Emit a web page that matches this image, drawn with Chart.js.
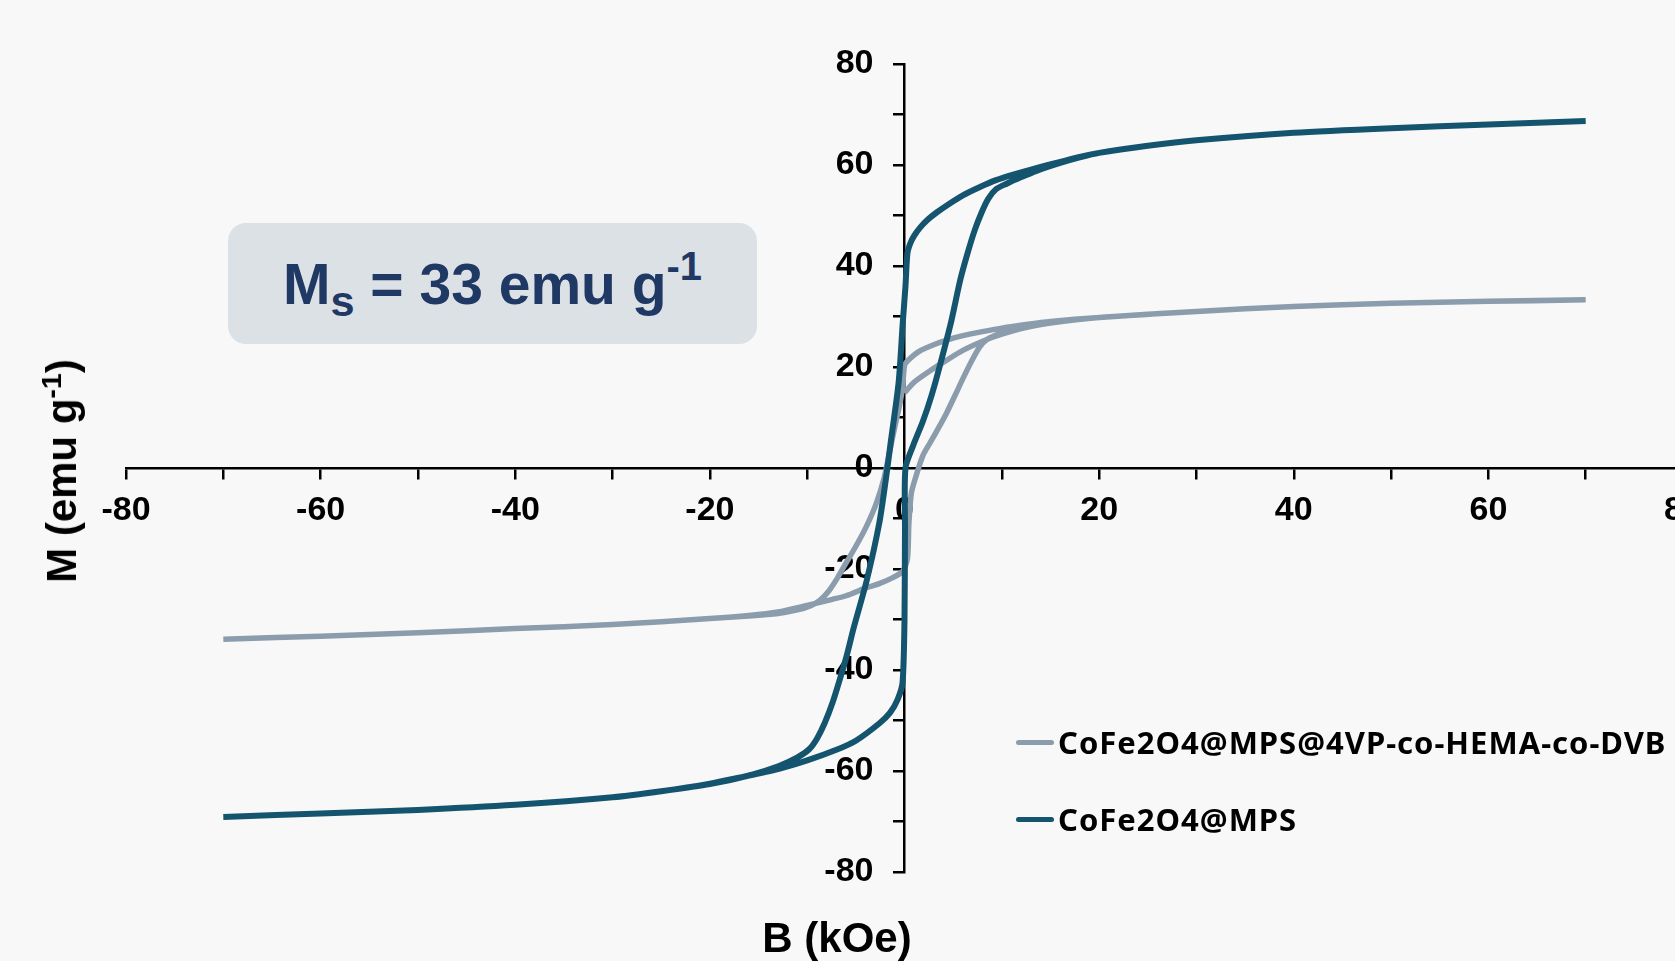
<!DOCTYPE html>
<html>
<head>
<meta charset="utf-8">
<script src="https://cdn.jsdelivr.net/npm/chart.js@4.4.1/dist/chart.umd.min.js"></script>
<style>
  html, body { margin: 0; padding: 0; background: #f8f8f8; overflow: hidden; }
  #wrap { position: relative; width: 1675px; height: 961px; overflow: hidden; background: #f8f8f8; }
  #chart { position: absolute; left: 0; top: 0; }
  .axis-title { position: absolute; font-family: "Liberation Sans", Arial, sans-serif; font-weight: bold;
    font-size: 42px; color: #000; white-space: nowrap; line-height: 1; }
  .axis-title sup { font-size: 0.68em; position: relative; top: -0.15em; vertical-align: top; }
  #xtitle { left: 837px; top: 938px; transform: translate(-50%, -50%); }
  #ytitle { left: 62px; top: 471px; transform: translate(-50%, -50%) rotate(-90deg); }
  #msbox { position: absolute; left: 228px; top: 223px; width: 529px; height: 121px; border-radius: 18px;
    background: #dce1e6; display: flex; align-items: center; justify-content: center;
    font-family: "Liberation Sans", Arial, sans-serif; font-weight: bold; font-size: 57px; color: #1f3864; white-space: nowrap; }
  #msbox .sub { font-size: 0.76em; position: relative; top: 0.42em; }
  #msbox .sup { font-size: 0.7em; position: relative; top: -0.42em; }
  #legend { position: absolute; left: 1016px; top: 0; font-family: "Noto Sans", "Open Sans", sans-serif; font-weight: bold;
    font-size: 31px; letter-spacing: 1px; color: #000; }
  .leg-row { position: absolute; left: 0; display: flex; align-items: center; white-space: nowrap; transform: translateY(-50%); }
  .leg-line { width: 38px; height: 5px; border-radius: 3px; margin-right: 4px; }
</style>
</head>
<body>
<div id="wrap">
  <canvas id="chart" width="1760" height="961"></canvas>
  <div id="msbox"><span>M</span><span class="sub">s</span><span>&nbsp;= 33 emu g</span><span class="sup">-1</span></div>
  <div class="axis-title" id="ytitle">M (emu g<sup>-1</sup>)</div>
  <div class="axis-title" id="xtitle">B (kOe)</div>
  <div id="legend"></div>
</div>
<script>
// CoFe2O4@MPS@4VP-co-HEMA-co-DVB: initial curve, then descending and ascending branches
const fieldPoly = [
  0, 1, 2.6, 4.3, 6, 8.4, 10, 12, 15, 20, 30, 40, 50, 60, 70,
  60, 50, 40, 30, 20, 15, 12.5, 10, 8, 6, 4.5, 3, 1.5, 0.3, 0, -0.2, -0.5, -0.9, -1.5, -2.1, -2.9, -3.9, -5, -6, -6.9, -7.8, -8.7, -9.7, -11, -13, -16, -20, -30, -40, -50, -60, -70,
  -60, -50, -40, -30, -20, -16, -13, -10, -7.4, -6, -3.9, -2.6, -1.2, -0.2, 0.3, 0.45, 0.7, 1.2, 1.9, 2.6, 3.4, 4.3, 5.2, 6, 6.9, 7.7, 8.5, 9.8, 11, 13, 16, 20, 30, 40, 50, 60, 70
];
const momentPoly = [
  14.9, 17, 19.2, 21.3, 23.3, 25.4, 26.5, 27.6, 28.7, 29.8, 31.0, 32.0, 32.6, 33.0, 33.3,
  33.0, 32.6, 32.0, 31.0, 29.8, 29.0, 28.4, 27.7, 27.0, 26.2, 25.4, 24.4, 23.1, 21.2, 20.3, 16, 12.5, 9, 3.5, -2, -7, -11.5, -15.5, -18.8, -21.8, -24.4, -26.2, -27.3, -28.1, -28.8, -29.3, -29.8, -31.0, -31.8, -32.6, -33.3, -33.9,
  -33.3, -32.6, -31.8, -31.0, -29.8, -29.2, -28.5, -27.2, -26.0, -25.3, -23.7, -22.9, -21.7, -20.5, -18, -11, -5, -1.5, 2.5, 4.9, 7.6, 10.8, 14.4, 17.7, 21.2, 23.9, 25.5, 26.7, 27.5, 28.3, 29.1, 29.8, 31.0, 32.0, 32.6, 33.0, 33.3
];

// CoFe2O4@MPS: descending branch, then ascending branch
const fieldMPS = [
  70, 60, 50, 40, 30, 25, 20, 18, 13, 11, 9.4, 7.7, 6, 4.5, 3.3, 2.4, 1.6, 1, 0.6, 0.3, 0.1, -0.17, -0.6, -1.4, -1.9, -2.6, -3.9, -5.2, -6, -6.7, -7.4, -8.2, -9, -9.8, -11, -12.9, -16, -20, -25, -30, -40, -50, -60, -70,
  -60, -50, -40, -30, -25, -20, -17, -13, -10, -7, -5, -2.6, -1.5, -0.7, -0.2, 0, 0.05, 0.1, 0.9, 1.9, 2.8, 3.6, 4.8, 5.7, 6.4, 7.2, 7.9, 8.6, 9.4, 10.5, 12, 13.5, 16, 18, 20, 25, 30, 40, 50, 60, 70
];
const momentMPS = [
  68.7, 68.0, 67.3, 66.4, 64.9, 63.8, 62.4, 61.6, 59.1, 58.0, 57.0, 55.6, 54.0, 52.2, 50.6, 49.2, 47.6, 46.0, 44.5, 42.5, 36, 29, 17, 5.3, -2, -11, -22.4, -31.5, -37.6, -42.2, -46.5, -50.5, -53.6, -55.7, -57.3, -59.0, -60.9, -62.6, -64.0, -65.2, -66.7, -67.7, -68.4, -69.1,
  -68.4, -67.7, -66.7, -65.2, -64.0, -62.5, -61.3, -59.6, -57.9, -55.8, -54.0, -50.6, -48.5, -45.8, -42.5, -30, -12, 0, 4.5, 9.3, 14.5, 20, 29, 37, 42, 47, 50.5, 53.3, 55.2, 56.3, 57.6, 58.8, 60.4, 61.5, 62.4, 63.8, 64.9, 66.4, 67.3, 68.0, 68.7
];

const seriesNames = ["CoFe2O4@MPS@4VP-co-HEMA-co-DVB", "CoFe2O4@MPS"];
const seriesColors = ["#8b9cad", "#14546f"];

const toPoints = (xs, ys) => xs.map((x, i) => ({ x: x, y: ys[i] }));

const tickFont = { family: "'Liberation Sans', Arial, sans-serif", size: 34, weight: "bold" };
const everyOther = (v) => (v % 20 === 0 ? v : "");

// labels of an axis placed at x = 0 sit on the axis line; move them left of the tick marks
const shiftYLabels = {
  id: "shiftYLabels",
  beforeDraw(chart) {
    const scale = chart.scales.y;
    const items = scale.getLabelItems();
    if (items._shifted) return;
    const off = scale.options.grid.tickLength + scale.options.ticks.padding + 1;
    items.forEach((it) => { it.options.translation[0] -= off; });
    items._shifted = true;
  },
};

const ctx = document.getElementById("chart");
const chart = new Chart(ctx, {
  type: "scatter",
  data: {
    datasets: [
      {
        label: seriesNames[0],
        data: toPoints(fieldPoly, momentPoly),
        borderColor: seriesColors[0],
        borderWidth: 5.5,
        showLine: true,
        pointRadius: 0,
        tension: 0.25,
        order: 2,
      },
      {
        label: seriesNames[1],
        data: toPoints(fieldMPS, momentMPS),
        borderColor: seriesColors[1],
        borderWidth: 6,
        showLine: true,
        pointRadius: 0,
        tension: 0.25,
        order: 1,
      },
    ],
  },
  options: {
    responsive: false,
    animation: false,
    layout: { padding: { left: 126, top: 64, right: 77, bottom: 89 } },
    plugins: { legend: { display: false }, tooltip: { enabled: false } },
    scales: {
      x: {
        type: "linear",
        min: -80,
        max: 80,
        position: { y: 0 },
        afterFit: (s) => { s.height = 0; },
        border: { color: "#000", width: 2.5 },
        grid: { drawOnChartArea: false, drawTicks: true, tickLength: 10, color: "#000", lineWidth: 2.5 },
        ticks: { stepSize: 10, autoSkip: false, maxRotation: 0, padding: 12, color: "#000", font: tickFont, callback: everyOther },
      },
      y: {
        type: "linear",
        min: -80,
        max: 80,
        position: { x: 0 },
        afterFit: (s) => { s.width = 0; },
        border: { color: "#000", width: 2.5 },
        grid: { drawOnChartArea: false, drawTicks: true, tickLength: 10, color: "#000", lineWidth: 2.5 },
        ticks: { stepSize: 10, autoSkip: false, padding: 20, color: "#000", font: tickFont, callback: everyOther },
      },
    },
  },
  plugins: [shiftYLabels],
});

// legend built from the datasets
const legendRows = [742, 819];
const legend = document.getElementById("legend");
chart.data.datasets.forEach((ds, i) => {
  const row = document.createElement("div");
  row.className = "leg-row";
  row.style.top = legendRows[i] + "px";
  const line = document.createElement("span");
  line.className = "leg-line";
  line.style.background = ds.borderColor;
  const text = document.createElement("span");
  text.textContent = ds.label;
  row.appendChild(line);
  row.appendChild(text);
  legend.appendChild(row);
});
</script>
</body>
</html>
